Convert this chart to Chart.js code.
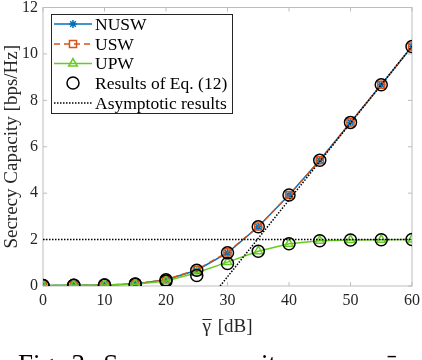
<!DOCTYPE html>
<html><head><meta charset="utf-8">
<script src="https://cdn.jsdelivr.net/npm/chart.js@4"></script>
<style>
html,body{margin:0;padding:0;background:#fff;overflow:hidden;width:422px;height:360px;}
#c{position:absolute;left:0;top:0;}
#cap{position:absolute;left:18px;top:351px;font:27px/1 "Liberation Serif";color:#000;white-space:nowrap;word-spacing:4px;}
</style></head><body>
<canvas id="c" width="422" height="360"></canvas>
<div id="cap">Fig. 3: Secrecy capacity versus γ̄.</div>
<script>
// ---- data ----
const gammaDb = [0,5,10,15,20,25,30,35,40,45,50,55,60];
const nusw  = [0.02,0.03,0.04,0.09,0.27,0.68,1.43,2.55,3.92,5.42,7.05,8.67,10.32];
const usw   = [0.02,0.03,0.04,0.09,0.27,0.70,1.45,2.56,3.92,5.42,7.05,8.67,10.32];
const upw   = [0.02,0.03,0.04,0.08,0.22,0.57,1.03,1.50,1.82,1.95,1.98,1.99,2.00];
const eqNusw = [0.02,0.03,0.04,0.09,0.27,0.68,1.43,2.55,3.92,5.42,7.05,8.67,10.32];
const eqUpw  = [0.02,0.03,0.04,0.08,0.22,0.45,0.97,1.50,1.82,1.95,1.98,1.99,2.00];
const asymFlatX = [0,60];
const asymFlatY = [2,2];
const asymSlopeX = [28.8,60];
const asymSlopeY = [0,10.33];
const xTicks = [0,10,20,30,40,50,60];
const yTicks = [0,2,4,6,8,10,12];
const seriesLabels = ['NUSW','USW','UPW','Results of Eq. (12)','Asymptotic results'];
const xTitleSymbol = 'γ';
const xTitleUnit = '[dB]';
const yTitle = 'Secrecy Capacity [bps/Hz]';

const pts = (xs, ys) => xs.map((x,i) => ({x:x, y:ys[i]}));
const BLUE='#0072BD', ORANGE='#D95319', GREEN='#66cc22';
const AXIS='#bdbdbd', TXT='#262626';
const SERIF='"Liberation Serif", "Times New Roman", serif';

const frame = {
  id:'frame',
  beforeDatasetsDraw(chart){
    const {ctx, chartArea:a, scales} = chart;
    ctx.save();
    ctx.strokeStyle = AXIS; ctx.lineWidth = 1;
    ctx.strokeRect(a.left, a.top, a.right-a.left, a.bottom-a.top);
    ctx.beginPath();
    xTicks.forEach(v => {
      const p = scales.x.getPixelForValue(v);
      ctx.moveTo(p, a.bottom); ctx.lineTo(p, a.bottom-4);
      ctx.moveTo(p, a.top); ctx.lineTo(p, a.top+4);
    });
    yTicks.forEach(v => {
      const p = scales.y.getPixelForValue(v);
      ctx.moveTo(a.left, p); ctx.lineTo(a.left+4, p);
      ctx.moveTo(a.right, p); ctx.lineTo(a.right-4, p);
    });
    ctx.stroke();
    // x-axis title with overlined gamma
    ctx.fillStyle = TXT; ctx.strokeStyle = TXT;
    ctx.font = '19px ' + SERIF; ctx.textBaseline = 'alphabetic'; ctx.textAlign = 'left';
    const cx = (a.left + a.right) / 2;
    const gw = ctx.measureText(xTitleSymbol).width;
    const gap = 7;
    const uw = ctx.measureText(xTitleUnit).width;
    const start = cx - (gw + gap + uw) / 2;
    const base = 332;
    ctx.fillText(xTitleSymbol, start, base);
    ctx.fillText(xTitleUnit, start + gw + gap, base);
    ctx.lineWidth = 1;
    ctx.beginPath(); ctx.moveTo(start, base - 12.5); ctx.lineTo(start + gw + 1, base - 12.5); ctx.stroke();
    ctx.restore();
  }
};

const legendBox = {
  id:'legendBox',
  afterDraw(chart){
    const ctx = chart.ctx;
    ctx.save();
    const bx=51, by=14, bw=181, bh=99;
    ctx.fillStyle='#fff'; ctx.fillRect(bx,by,bw,bh);
    ctx.strokeStyle='#262626'; ctx.lineWidth=1; ctx.strokeRect(bx+0.5,by+0.5,bw,bh);
    const rows=[24,44,63.5,83,103];
    const entries=[0,1,2,3,5];
    entries.forEach((di,i) => {
      const ds = chart.data.datasets[di]; const y = rows[i];
      if (ds.showLine !== false) {
        ctx.beginPath(); ctx.setLineDash(ds.borderDash || []);
        ctx.lineWidth = ds.borderWidth; ctx.strokeStyle = ds.borderColor;
        ctx.moveTo(54,y); ctx.lineTo(92,y); ctx.stroke(); ctx.setLineDash([]);
      }
      if (ds.pointRadius > 0) {
        ctx.strokeStyle = ds.pointBorderColor || ds.borderColor;
        ctx.fillStyle = 'rgba(0,0,0,0)';
        ctx.lineWidth = ds.pointBorderWidth || 1.5;
        Chart.helpers.drawPoint(ctx, {pointStyle:ds.pointStyle, radius:ds.pointRadius, rotation:0, borderWidth:ctx.lineWidth}, 73, y);
      }
      ctx.fillStyle='#000'; ctx.font='17.5px '+SERIF;
      ctx.textBaseline='middle'; ctx.textAlign='left';
      ctx.fillText(ds.label, 95, y+1);
    });
    ctx.restore();
  }
};

new Chart(document.getElementById('c'), {
  type:'line',
  data:{
    datasets:[
      {label:seriesLabels[0], data:pts(gammaDb,nusw), borderColor:BLUE, borderWidth:1.5,
       pointStyle:'star', pointRadius:4, pointBorderColor:BLUE, pointBorderWidth:1.5,
       backgroundColor:'rgba(0,0,0,0)', tension:0, order:6},
      {label:seriesLabels[1], data:pts(gammaDb,usw), borderColor:ORANGE, borderWidth:1.5, borderDash:[6,4],
       pointStyle:'rect', pointRadius:5, pointBorderColor:ORANGE, pointBorderWidth:1.5,
       backgroundColor:'rgba(0,0,0,0)', tension:0, order:5},
      {label:seriesLabels[2], data:pts(gammaDb,upw), borderColor:GREEN, borderWidth:1.5,
       pointStyle:'triangle', pointRadius:5, pointBorderColor:GREEN, pointBorderWidth:1.5,
       backgroundColor:'rgba(0,0,0,0)', tension:0, order:4},
      {label:seriesLabels[3], data:pts(gammaDb,eqNusw), showLine:false, borderColor:'#000',
       pointStyle:'circle', pointRadius:6, pointBorderColor:'#000', pointBorderWidth:1.5,
       backgroundColor:'rgba(0,0,0,0)', pointBackgroundColor:'rgba(0,0,0,0)', order:3},
      {label:seriesLabels[3]+' UPW', data:pts(gammaDb,eqUpw), showLine:false, borderColor:'#000',
       pointStyle:'circle', pointRadius:6, pointBorderColor:'#000', pointBorderWidth:1.5,
       backgroundColor:'rgba(0,0,0,0)', pointBackgroundColor:'rgba(0,0,0,0)', order:2},
      {label:seriesLabels[4], data:pts(asymFlatX,asymFlatY), borderColor:'#000', borderWidth:1.5,
       borderDash:[1.5,1.5], pointRadius:0, backgroundColor:'rgba(0,0,0,0)', tension:0, order:1},
      {label:seriesLabels[4]+' 2', data:pts(asymSlopeX,asymSlopeY), borderColor:'#000', borderWidth:1.5,
       borderDash:[1.5,1.5], pointRadius:0, backgroundColor:'rgba(0,0,0,0)', tension:0, order:0}
    ]
  },
  options:{
    responsive:false, animation:false, devicePixelRatio:1,
    layout:{padding:{top:5,right:10,left:0,bottom:0}},
    plugins:{legend:{display:false}, tooltip:{enabled:false}},
    scales:{
      x:{type:'linear', min:0, max:60,
        afterBuildTicks:s => { s.ticks = xTicks.map(v => ({value:v})); },
        afterFit:s => { s.height = 74; s.paddingLeft = 0; s.paddingRight = 0; },
        grid:{display:false, drawTicks:false, tickLength:0}, border:{display:false},
        ticks:{padding:5, color:TXT, font:{family:SERIF, size:16}, maxRotation:0},
        title:{display:false}
      },
      y:{type:'linear', min:0, max:12,
        afterBuildTicks:s => { s.ticks = yTicks.map(v => ({value:v})); },
        afterFit:s => { s.width = 43; s.paddingTop = 0; s.paddingBottom = 0; },
        grid:{display:false, drawTicks:false, tickLength:0}, border:{display:false},
        ticks:{padding:5, color:TXT, font:{family:SERIF, size:16}},
        title:{display:true, text:yTitle, color:TXT, font:{family:SERIF, size:19}, padding:{top:1,bottom:0}}
      }
    }
  },
  plugins:[frame, legendBox]
});
</script>
</body></html>
